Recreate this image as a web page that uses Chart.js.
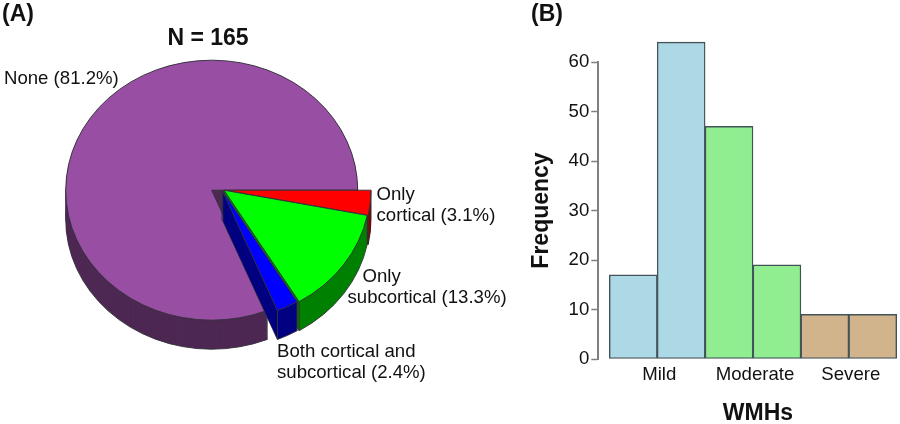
<!DOCTYPE html>
<html>
<head>
<meta charset="utf-8">
<script src="https://cdn.jsdelivr.net/npm/chart.js@4"></script>
<style>
html,body{margin:0;padding:0;background:#fff;}
#wrap{position:relative;width:900px;height:424px;overflow:hidden;}
canvas{position:absolute;top:0;}
#pie{left:0;}
#bar{left:520px;}
</style>
</head>
<body>
<div id="wrap">
<canvas id="pie" width="520" height="424"></canvas>
<canvas id="bar" width="380" height="424"></canvas>
</div>
<script>
// ---- data: pie (A)
const sliceNames = ['Only cortical', 'Only subcortical', 'Both cortical and subcortical', 'None'];
const slicePercents = [3.1, 13.3, 2.4, 81.2];
// ---- data: histogram (B)
const binCentres = [0.5, 1.5, 2.5, 3.5, 4.5, 5.5];
const binCounts = [17, 64, 47, 19, 9, 9];
const groupNames = ['Mild', 'Moderate', 'Severe'];

// ---- styles
const FONT = '"Liberation Sans", Arial, sans-serif';
const sliceTop = ['#FF0000', '#00FF00', '#0000FF', '#984EA3'];
const sliceWall = ['#800000', '#008000', '#000080', '#4D2853'];
const sliceShift = [13.3, 12.3, 10.3, 0];
const sliceOrder = [3, 0, 1, 2];
const binColours = ['#ADD8E6', '#ADD8E6', '#90EE90', '#90EE90', '#D2B48C', '#D2B48C'];
const SQUASH = 130 / 146, DEPTH = 29, EDGE = '#33303a';

function sector(ctx, a, sx) {
  ctx.beginPath();
  ctx.moveTo(a.x + sx, 0);
  ctx.arc(a.x + sx, 0, a.outerRadius, a.startAngle, a.endAngle);
  ctx.closePath();
}

const pie3d = {
  id: 'pie3d',
  beforeDatasetsDraw(chart) {
    const ctx = chart.ctx;
    const arcs = chart.getDatasetMeta(0).data;
    const cy = arcs[0].y;
    sliceOrder.forEach(i => {
      const a = arcs[i], sx = sliceShift[i];
      ctx.save();
      ctx.translate(0, cy);
      // wall: stack of the sector, pushed down layer by layer
      for (let d = DEPTH; d >= 1; d--) {
        ctx.save();
        ctx.translate(0, d);
        ctx.scale(1, SQUASH);
        sector(ctx, a, sx);
        ctx.fillStyle = sliceWall[i];
        ctx.fill();
        if (d === DEPTH) {
          ctx.lineWidth = 1;
          ctx.strokeStyle = EDGE;
          ctx.stroke();
        }
        ctx.restore();
      }
      // vertical wall edges
      ctx.strokeStyle = EDGE;
      ctx.lineWidth = 1;
      [a.startAngle, a.endAngle].forEach(ang => {
        const px = a.x + sx + a.outerRadius * Math.cos(ang);
        const py = a.outerRadius * Math.sin(ang) * SQUASH;
        ctx.beginPath();
        ctx.moveTo(px, py);
        ctx.lineTo(px, py + DEPTH);
        ctx.stroke();
      });
      if (i !== 3) {
        ctx.beginPath();
        ctx.moveTo(a.x + sx, 0);
        ctx.lineTo(a.x + sx, DEPTH);
        ctx.stroke();
      }
      // top face
      ctx.scale(1, SQUASH);
      sector(ctx, a, sx);
      ctx.fillStyle = sliceTop[i];
      ctx.fill();
      ctx.lineWidth = 1;
      ctx.strokeStyle = EDGE;
      ctx.stroke();
      ctx.restore();
    });
    return false;
  }
};

function textPlugin(id, items) {
  return {
    id,
    afterDraw(chart) {
      const ctx = chart.ctx;
      ctx.save();
      ctx.fillStyle = '#111';
      ctx.textBaseline = 'alphabetic';
      items.forEach(t => {
        ctx.font = t.font;
        ctx.textAlign = t.align || 'left';
        ctx.fillText(t.text, t.x, t.y);
      });
      ctx.restore();
    }
  };
}

const LABEL = '18.6px ' + FONT, HEAD = 'bold 23px ' + FONT;

new Chart(document.getElementById('pie'), {
  type: 'pie',
  data: {
    labels: sliceNames,
    datasets: [{ data: slicePercents, backgroundColor: sliceTop, borderColor: EDGE, borderWidth: 1 }]
  },
  options: {
    responsive: false,
    animation: false,
    rotation: 90,
    radius: 146,
    layout: { padding: { left: 0, top: 0, right: 96.6, bottom: 43.6 } },
    plugins: { legend: { display: false }, tooltip: { enabled: false } }
  },
  plugins: [pie3d, textPlugin('pieText', [
    { text: '(A)', x: 2, y: 21, font: HEAD },
    { text: 'N = 165', x: 208, y: 45, font: HEAD, align: 'center' },
    { text: 'None (81.2%)', x: 4, y: 84, font: LABEL },
    { text: 'Only', x: 376.5, y: 200, font: LABEL },
    { text: 'cortical (3.1%)', x: 376.5, y: 221, font: LABEL },
    { text: 'Only', x: 362.5, y: 282, font: LABEL },
    { text: 'subcortical (13.3%)', x: 347.5, y: 303, font: LABEL },
    { text: 'Both cortical and', x: 277, y: 357, font: LABEL },
    { text: 'subcortical (2.4%)', x: 277, y: 378, font: LABEL }
  ])]
});

new Chart(document.getElementById('bar'), {
  type: 'bar',
  data: {
    labels: binCentres,
    datasets: [{
      data: binCounts,
      backgroundColor: binColours,
      borderColor: '#43535a',
      borderWidth: 1.4,
      borderSkipped: false,
      barPercentage: 1,
      categoryPercentage: 1,
      clip: false
    }]
  },
  options: {
    responsive: false,
    animation: false,
    layout: { padding: { left: 0, top: 62, right: 3.3, bottom: 0 } },
    plugins: { legend: { display: false }, tooltip: { enabled: false } },
    scales: {
      x: {
        type: 'linear',
        offset: false,
        min: -0.23,
        max: 6,
        grid: { display: false, offset: false },
        border: { display: false },
        afterBuildTicks(scale) { scale.ticks = groupNames.map((_, i) => ({ value: 2 * i + 1 })); },
        afterFit(scale) { scale.height = 65; },
        ticks: {
          callback: (v, i) => groupNames[i],
          color: '#111',
          font: { family: FONT, size: 18.6 },
          padding: -3,
          labelOffset: 2,
          maxRotation: 0,
          autoSkip: false
        }
      },
      y: {
        min: 0,
        max: 60,
        afterFit(scale) { scale.width = 78.3; },
        title: {
          display: true,
          text: 'Frequency',
          color: '#111',
          font: { family: FONT, size: 23, weight: 'bold' },
          padding: { top: 8, bottom: 0 }
        },
        grid: { drawOnChartArea: false, drawTicks: true, tickLength: 7, tickColor: '#808080', tickWidth: 1.5 },
        border: { display: true, color: '#808080', width: 2 },
        ticks: {
          stepSize: 10,
          color: '#111',
          font: { family: FONT, size: 18.6 },
          padding: 2
        }
      }
    }
  },
  plugins: [textPlugin('barText', [
    { text: '(B)', x: 11, y: 21, font: HEAD },
    { text: 'WMHs', x: 238, y: 420, font: HEAD, align: 'center' }
  ])]
});
</script>
</body>
</html>
